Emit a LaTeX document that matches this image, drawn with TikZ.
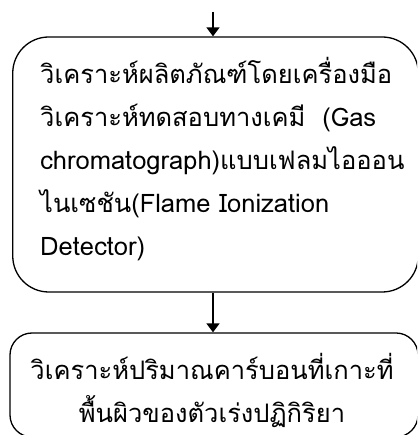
\documentclass[tikz,border=0pt]{standalone}
\usepackage{fontspec}
\setmainfont[Script=Thai]{Loma}
\usetikzlibrary{arrows.meta}
\newcommand\mytxtfont{\fontsize{25.5bp}{38.5bp}\selectfont}
\begin{document}
\begin{tikzpicture}[x=1bp,y=1bp,
  box/.style={draw,line width=1.3bp,rectangle},
  arr/.style={line width=1.5bp,-{Triangle[length=9bp,width=13bp]}},
  txt/.style={inner sep=0pt,font=\mytxtfont}]
\useasboundingbox (0,0) rectangle (417,435);
\clip (0,0) rectangle (417,435);
\node[box,rounded corners=36bp,minimum width=405.5bp,minimum height=255bp] (b1) at (215.5,270.5) {};
\node[box,rounded corners=22bp,minimum width=408bp,minimum height=104bp] (b2) at (214,50) {};
\node[txt,anchor=base west,text width=372bp,align=left] (t1) at (40,351)
  {วิเคราะห์ผลิตภัณฑ์โดยเครื่องมือ\\[4.5bp]
   วิเคราะห์ทดสอบทางเคมี~ (Gas\\[4.5bp]
   chromatograph)แบบเฟลมไอออน\\[4.5bp]
   ไนเซชัน(Flame Ionization\\[4.5bp]
   Detector)};
\node[txt,anchor=base,text width=390bp,align=center] (t2) at (212,55)
  {วิเคราะห์ปริมาณคาร์บอนที่เกาะที่\\[4.5bp]
   พื้นผิวของตัวเร่งปฏิกิริยา};
\coordinate (s) at (213,423);
\draw[arr] (s) -- (s |- b1.north);
\draw[arr] (s |- b1.south) -- (s |- b2.north);
\end{tikzpicture}
\end{document}
